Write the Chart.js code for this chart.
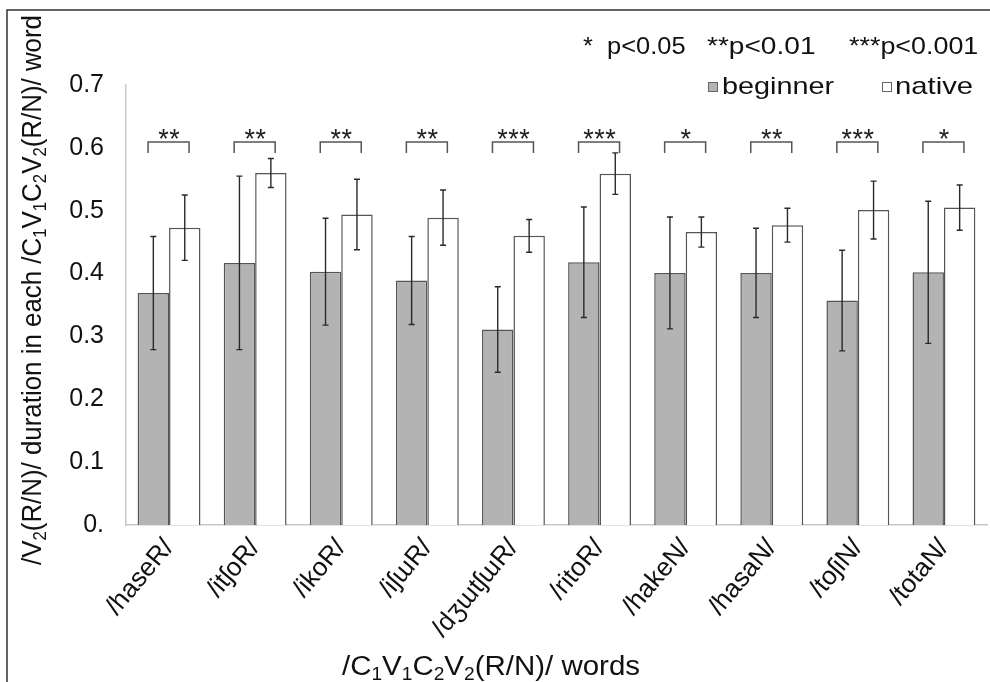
<!DOCTYPE html>
<html>
<head>
<meta charset="utf-8">
<script src="https://cdn.jsdelivr.net/npm/chart.js@4/dist/chart.umd.min.js"></script>
<style>
  html, body { margin: 0; padding: 0; background: #fff; }
  #wrap { width: 990px; height: 682px; }
</style>
</head>
<body>
<div id="wrap"><canvas id="chart" width="990" height="682"></canvas></div>
<script>
// ==== data ====
const words = ['/haseR/', '/itʃoR/', '/ikoR/', '/iʃɯR/', '/dʒɯtʃɯR/', '/ritoR/', '/hakeN/', '/hasaN/', '/toʃiN/', '/totaN/'];
const beginner = [0.369, 0.417, 0.403, 0.389, 0.311, 0.418, 0.401, 0.401, 0.357, 0.402];
const beginnerErr = [0.090, 0.138, 0.085, 0.070, 0.068, 0.088, 0.089, 0.071, 0.080, 0.113];
const native = [0.473, 0.560, 0.494, 0.489, 0.460, 0.559, 0.466, 0.477, 0.501, 0.505];
const nativeErr = [0.052, 0.023, 0.056, 0.044, 0.026, 0.033, 0.024, 0.027, 0.046, 0.036];
const sig = ['**', '**', '**', '**', '***', '***', '*', '**', '***', '*'];
const yTickLabels = ['0.', '0.1', '0.2', '0.3', '0.4', '0.5', '0.6', '0.7'];
const pLegend = ['*  p<0.05', '**p<0.01', '***p<0.001'];

const FONT = "'Liberation Sans', Arial, 'DejaVu Sans', sans-serif";

// text with _1 style subscripts, squeezed/stretched to a given width
function drawRich(ctx, str, x, y, size, fitWidth) {
    const parts = [];
    str.split(/(_\d)/).forEach(p => {
        if (!p) return;
        if (p[0] === '_') parts.push({ t: p[1], sub: true });
        else parts.push({ t: p, sub: false });
    });
    let w = 0;
    parts.forEach(p => {
        ctx.font = `${p.sub ? size * 0.65 : size}px ${FONT}`;
        p.w = ctx.measureText(p.t).width; w += p.w;
    });
    const sx = fitWidth ? fitWidth / w : 1;
    ctx.save();
    ctx.translate(x, y); ctx.scale(sx, 1);
    let cx = -w / 2;
    ctx.textAlign = 'left';
    parts.forEach(p => {
        ctx.font = `${p.sub ? size * 0.65 : size}px ${FONT}`;
        ctx.fillText(p.t, cx, p.sub ? size * 0.2 : 0);
        cx += p.w;
    });
    ctx.restore();
}

function wideText(ctx, str, x, y, sx) {
    ctx.save();
    ctx.translate(x, y); ctx.scale(sx, 1);
    ctx.fillText(str, 0, 0);
    ctx.restore();
}

// error bars, significance brackets, legend, titles, frame
const extras = {
    id: 'extras',
    afterDatasetsDraw(chart) {
        const ctx = chart.ctx, y = chart.scales.y, x = chart.scales.x;
        const errs = [beginnerErr, nativeErr];
        ctx.save();
        ctx.strokeStyle = '#2a2a2a'; ctx.lineWidth = 1.4;
        chart.data.datasets.forEach((ds, di) => {
            chart.getDatasetMeta(di).data.forEach((bar, i) => {
                const v = ds.data[i], e = errs[di][i];
                const t = y.getPixelForValue(v + e), b = y.getPixelForValue(v - e);
                ctx.beginPath();
                ctx.moveTo(bar.x, t); ctx.lineTo(bar.x, b);
                ctx.moveTo(bar.x - 3, t); ctx.lineTo(bar.x + 3, t);
                ctx.moveTo(bar.x - 3, b); ctx.lineTo(bar.x + 3, b);
                ctx.stroke();
            });
        });

        // brackets + stars
        ctx.strokeStyle = '#555'; ctx.lineWidth = 1.5;
        ctx.fillStyle = '#222';
        sig.forEach((s, i) => {
            const c = x.getPixelForValue(i);
            ctx.beginPath();
            ctx.moveTo(c - 21, 153); ctx.lineTo(c - 21, 142); ctx.lineTo(c + 20, 142); ctx.lineTo(c + 20, 153);
            ctx.stroke();
            ctx.font = `27px ${FONT}`; ctx.textAlign = 'center'; ctx.textBaseline = 'alphabetic';
            const n = s.length, gap = 11;
            for (let k = 0; k < n; k++) ctx.fillText('*', c + (k - (n - 1) / 2) * gap, 148);
        });

        // p-value legend
        ctx.fillStyle = '#111'; ctx.textAlign = 'left'; ctx.font = `24px ${FONT}`;
        wideText(ctx, pLegend[0], 583, 54, 1.06);
        wideText(ctx, pLegend[1], 707, 54, 1.17);
        wideText(ctx, pLegend[2], 849, 54, 1.12);

        // series legend
        ctx.lineWidth = 1; ctx.strokeStyle = '#666';
        ctx.fillStyle = '#b3b3b3'; ctx.fillRect(708, 82, 9, 9); ctx.strokeRect(708.5, 82.5, 9, 9);
        ctx.fillStyle = '#fff'; ctx.fillRect(882, 82, 9, 9); ctx.strokeRect(882.5, 82.5, 9, 9);
        ctx.fillStyle = '#111'; ctx.font = `24px ${FONT}`;
        wideText(ctx, chart.data.datasets[0].label, 722, 94, 1.2);
        wideText(ctx, chart.data.datasets[1].label, 895, 94, 1.22);

        // axis titles
        ctx.fillStyle = '#111';
        drawRich(ctx, '/C_1V_1C_2V_2(R/N)/ words', 491, 675, 27, 298);
        ctx.save();
        ctx.translate(41, 290); ctx.rotate(-Math.PI / 2);
        drawRich(ctx, '/V_2(R/N)/ duration in each /C_1V_1C_2V_2(R/N)/ word', 0, 0, 27, 550);
        ctx.restore();

        // outer frame
        ctx.strokeStyle = '#333'; ctx.lineWidth = 1.5;
        ctx.beginPath(); ctx.moveTo(7, 682); ctx.lineTo(7, 10); ctx.lineTo(990, 10); ctx.stroke();
        ctx.restore();
    }
};

new Chart(document.getElementById('chart'), {
    type: 'bar',
    data: {
        labels: words,
        datasets: [
            { label: 'beginner', data: beginner, backgroundColor: '#b3b3b3', borderColor: '#555', borderWidth: 1.5 },
            { label: 'native', data: native, backgroundColor: '#ffffff', borderColor: '#555', borderWidth: 1.5 }
        ]
    },
    options: {
        responsive: false, animation: false,
        layout: { padding: { top: 85, right: 3, left: 0, bottom: 0 } },
        datasets: { bar: { categoryPercentage: 0.73, barPercentage: 1.0 } },
        plugins: { legend: { display: false }, tooltip: { enabled: false } },
        scales: {
            x: {
                grid: { display: false, drawTicks: false },
                border: { display: true, color: '#c8c8c8', width: 1.5 },
                ticks: { color: '#111', font: { family: FONT, size: 26 }, minRotation: 50, maxRotation: 50, padding: 8, autoSkip: false },
                afterFit: s => { s.height = 157; }
            },
            y: {
                min: 0, max: 0.7,
                grid: { display: false, drawTicks: false },
                border: { display: true, color: '#c8c8c8', width: 1.5 },
                ticks: {
                    stepSize: 0.1, padding: 22, color: '#111', font: { family: FONT, size: 25 },
                    callback: (v, i) => yTickLabels[i]
                },
                afterFit: s => { s.width = 126; }
            }
        }
    },
    plugins: [extras]
});
</script>
</body>
</html>
